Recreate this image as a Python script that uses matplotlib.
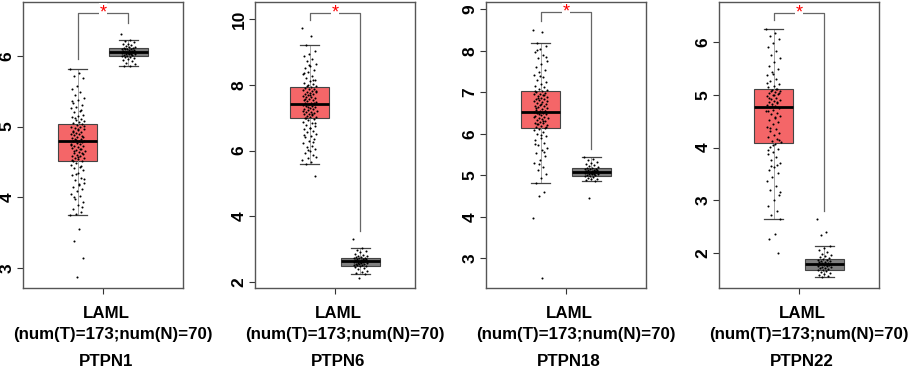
import matplotlib.pyplot as plt
import numpy as np

plt.rcParams['font.family'] = ['Liberation Sans', 'DejaVu Sans']

genes = ['PTPN1', 'PTPN6', 'PTPN18', 'PTPN22']
cohort = 'LAML'
counts = '(num(T)=173;num(N)=70)'

# box statistics: (whislo, q1, med, q3, whishi)
tumor_stats = [
    (3.75, 4.51, 4.79, 5.04, 5.82),
    (5.59, 6.98, 7.42, 7.95, 9.23),
    (4.82, 6.14, 6.53, 7.04, 8.20),
    (2.64, 4.09, 4.77, 5.12, 6.25),
]
normal_stats = [
    (5.85, 6.00, 6.06, 6.11, 6.23),
    (2.23, 2.49, 2.62, 2.73, 3.03),
    (4.87, 4.99, 5.09, 5.17, 5.44),
    (1.54, 1.68, 1.79, 1.89, 2.14),
]

tumor_pts = [
    [5.82, 5.75, 5.71, 5.68, 5.58, 5.53, 5.49, 5.44, 5.40, 5.37, 5.33, 5.31, 5.28, 5.26, 5.22, 5.20,
     5.17, 5.15, 5.13, 5.11, 5.09, 5.08, 5.06, 5.05, 5.03, 5.02, 5.00, 4.99, 4.98, 4.96, 4.95, 4.94,
     4.93, 4.91, 4.90, 4.89, 4.88, 4.86, 4.85, 4.84, 4.83, 4.82, 4.80, 4.79, 4.79, 4.78, 4.77, 4.76,
     4.75, 4.73, 4.72, 4.71, 4.70, 4.68, 4.67, 4.66, 4.64, 4.63, 4.62, 4.60, 4.59, 4.58, 4.56, 4.55,
     4.54, 4.52, 4.51, 4.49, 4.46, 4.43, 4.41, 4.38, 4.35, 4.31, 4.28, 4.24, 4.21, 4.18, 4.15, 4.12,
     4.09, 4.05, 4.02, 3.98, 3.93, 3.89, 3.84, 3.80, 3.77, 3.75, 3.56, 3.38, 3.15, 2.87,
     5.36, 5.24, 5.12, 5.01, 4.97, 4.92, 4.87, 4.81, 4.74, 4.69, 4.65, 4.61, 4.57, 4.53, 4.45, 4.33,
     4.26, 4.19, 4.00, 3.86],
    [9.73, 9.50, 9.23, 9.05, 8.95, 8.88, 8.80, 8.72, 8.65, 8.58, 8.52, 8.45, 8.40, 8.33, 8.27, 8.21,
     8.16, 8.11, 8.07, 8.03, 7.99, 7.96, 7.94, 7.92, 7.89, 7.87, 7.85, 7.82, 7.80, 7.78, 7.76, 7.73,
     7.71, 7.69, 7.66, 7.64, 7.62, 7.60, 7.58, 7.55, 7.53, 7.51, 7.49, 7.46, 7.44, 7.42, 7.41, 7.39,
     7.37, 7.35, 7.33, 7.30, 7.28, 7.26, 7.24, 7.21, 7.19, 7.17, 7.14, 7.12, 7.10, 7.08, 7.05, 7.03,
     7.01, 6.99, 6.96, 6.92, 6.88, 6.83, 6.79, 6.75, 6.70, 6.66, 6.61, 6.56, 6.51, 6.45, 6.40, 6.35,
     6.29, 6.22, 6.15, 6.10, 6.04, 5.98, 5.92, 5.85, 5.78, 5.71, 5.65, 5.59, 5.21,
     8.62, 8.36, 8.14, 7.97, 7.83, 7.68, 7.57, 7.45, 7.32, 7.22, 7.11, 7.00, 6.85, 6.68, 6.47, 6.25,
     6.02, 5.80],
    [8.50, 8.45, 8.20, 8.12, 8.05, 7.98, 7.90, 7.82, 7.75, 7.68, 7.61, 7.55, 7.49, 7.43, 7.37, 7.31,
     7.26, 7.21, 7.16, 7.12, 7.08, 7.05, 7.03, 7.01, 6.99, 6.97, 6.95, 6.93, 6.91, 6.89, 6.87, 6.85,
     6.83, 6.81, 6.79, 6.77, 6.75, 6.72, 6.70, 6.68, 6.66, 6.64, 6.62, 6.60, 6.58, 6.56, 6.54, 6.53,
     6.51, 6.49, 6.47, 6.45, 6.43, 6.41, 6.39, 6.37, 6.35, 6.33, 6.31, 6.29, 6.27, 6.25, 6.23, 6.21,
     6.19, 6.17, 6.15, 6.12, 6.08, 6.04, 5.99, 5.94, 5.89, 5.84, 5.78, 5.72, 5.66, 5.60, 5.53, 5.46,
     5.38, 5.30, 5.21, 5.12, 5.02, 4.93, 4.82, 4.59, 4.50, 3.96, 2.53,
     8.03, 7.86, 7.40, 7.03, 6.94, 6.86, 6.78, 6.71, 6.63, 6.55, 6.48, 6.40, 6.32, 6.24, 6.16, 5.96,
     5.75, 5.57, 5.26],
    [6.25, 6.18, 6.12, 6.05, 5.98, 5.90, 5.83, 5.76, 5.69, 5.62, 5.55, 5.49, 5.43, 5.37, 5.31, 5.26,
     5.21, 5.17, 5.14, 5.11, 5.09, 5.07, 5.05, 5.03, 5.01, 4.99, 4.97, 4.95, 4.93, 4.91, 4.89, 4.87,
     4.85, 4.83, 4.81, 4.79, 4.77, 4.75, 4.72, 4.69, 4.66, 4.63, 4.60, 4.56, 4.52, 4.48, 4.44, 4.40,
     4.36, 4.32, 4.28, 4.24, 4.20, 4.16, 4.12, 4.10, 4.06, 4.02, 3.97, 3.92, 3.87, 3.82, 3.76, 3.70,
     3.64, 3.58, 3.51, 3.44, 3.36, 3.28, 3.19, 3.10, 3.00, 2.90, 2.80, 2.72, 2.64, 2.36, 2.26, 2.00,
     5.40, 5.22, 5.12, 5.08, 5.04, 5.00, 4.94, 4.86, 4.78, 4.70, 4.58, 4.38, 4.14, 4.05, 3.95, 3.68,
     3.65, 3.15],
]
normal_pts = [
    [6.31, 6.23, 6.21, 6.19, 6.17, 6.16, 6.15, 6.14, 6.13, 6.12, 6.11, 6.11, 6.10, 6.10, 6.09, 6.09,
     6.08, 6.08, 6.07, 6.07, 6.06, 6.06, 6.06, 6.05, 6.05, 6.04, 6.04, 6.03, 6.03, 6.02, 6.02, 6.01,
     6.01, 6.00, 6.00, 5.99, 5.98, 5.97, 5.95, 5.94, 5.92, 5.90, 5.88, 5.86, 5.85],
    [3.29, 3.03, 2.98, 2.94, 2.90, 2.86, 2.83, 2.80, 2.78, 2.76, 2.74, 2.73, 2.72, 2.71, 2.70, 2.69,
     2.68, 2.67, 2.66, 2.65, 2.64, 2.63, 2.63, 2.62, 2.62, 2.61, 2.60, 2.59, 2.58, 2.57, 2.56, 2.55,
     2.54, 2.53, 2.52, 2.51, 2.50, 2.49, 2.47, 2.44, 2.41, 2.38, 2.34, 2.30, 2.26, 2.23, 2.12],
    [5.44, 5.40, 5.36, 5.32, 5.29, 5.26, 5.24, 5.22, 5.20, 5.18, 5.17, 5.16, 5.15, 5.14, 5.13, 5.12,
     5.12, 5.11, 5.10, 5.10, 5.09, 5.09, 5.08, 5.07, 5.07, 5.06, 5.05, 5.04, 5.03, 5.03, 5.02, 5.01,
     5.00, 4.99, 4.98, 4.96, 4.94, 4.92, 4.90, 4.88, 4.87, 4.46],
    [2.64, 2.40, 2.35, 2.14, 2.10, 2.06, 2.02, 1.99, 1.96, 1.94, 1.92, 1.90, 1.89, 1.88, 1.87, 1.86,
     1.85, 1.84, 1.83, 1.82, 1.81, 1.80, 1.79, 1.79, 1.78, 1.77, 1.76, 1.75, 1.74, 1.73, 1.72, 1.71,
     1.70, 1.69, 1.68, 1.66, 1.64, 1.62, 1.60, 1.58, 1.56, 1.54],
]

# significance bracket: (top, tumor leg end, normal leg end)
brackets = [(6.61, 5.95, 6.46), (10.2, 9.98, 3.55), (8.93, 8.72, 5.63), (6.55, 6.41, 2.80)]

ylims = [(2.72, 6.76), (1.81, 10.53), (2.28, 9.18), (1.34, 6.76)]
yticks = [[3, 4, 5, 6], [2, 4, 6, 8, 10], [3, 4, 5, 6, 7, 8, 9], [2, 3, 4, 5, 6]]

ax_left = [23, 255, 486, 719]
ax_width = 160
W, H = 913, 369

fig = plt.figure(figsize=(W / 100, H / 100), dpi=100)

frame_col = '#555555'


def jitter(n, width=0.14):
    # deterministic spread of points across the box
    return ((np.arange(n) * 0.618034) % 1.0 - 0.5) * 2 * width


for i in range(4):
    ax = fig.add_axes([ax_left[i] / W, 1 - 288 / H, ax_width / W, 286 / H])
    stats = []
    for s, lab in [(tumor_stats[i], 'T'), (normal_stats[i], 'N')]:
        stats.append(dict(whislo=s[0], q1=s[1], med=s[2], q3=s[3], whishi=s[4], fliers=[], label=lab))
    bp = ax.bxp(stats, positions=[1, 2], widths=0.78, patch_artist=True, showfliers=False,
                boxprops=dict(edgecolor='#444444', linewidth=0.8),
                medianprops=dict(color='black', linewidth=2),
                whiskerprops=dict(color='#999999', linewidth=0.6),
                capprops=dict(color='#444444', linewidth=0.9),
                capwidths=0.39)
    bp['boxes'][0].set_facecolor('#F46668')
    bp['boxes'][1].set_facecolor('#7F7F7F')

    t = np.array(tumor_pts[i])
    n = np.array(normal_pts[i])
    ax.scatter(1 + jitter(len(t)), t, s=2.2, color='black', zorder=3, linewidths=0)
    ax.scatter(2 + jitter(len(n)), n, s=2.2, color='black', zorder=3, linewidths=0)

    top, l1, l2 = brackets[i]
    ax.plot([1, 1, 2, 2], [l1, top, top, l2], color='#666666', linewidth=0.9, zorder=2)
    ax.text(1.5, top, '*', color='red', ha='center', va='center', fontsize=13,
            bbox=dict(facecolor='white', edgecolor='none', pad=0.5), zorder=4)

    ax.set_xlim(-0.07, 3.07)
    ax.set_ylim(*ylims[i])
    ax.set_xticks([1.5])
    ax.set_xticklabels([''])
    ax.set_yticks(yticks[i])
    ax.set_yticklabels([str(v) for v in yticks[i]], rotation=90, va='center',
                       fontsize=12.5, fontweight='bold')
    ax.tick_params(colors='#333333', length=4, width=0.8, pad=2)
    ax.tick_params(axis='y', labelcolor='black')
    for sp in ax.spines.values():
        sp.set_color(frame_col)
        sp.set_linewidth(1.0)

    cx = ax_left[i] + ax_width / 2
    fig.text((cx + 3) / W, 1 - 313 / H, cohort, ha='center', va='center', fontsize=12.2, fontweight='bold')
    fig.text((cx + 10) / W, 1 - 334 / H, counts, ha='center', va='center', fontsize=12.2, fontweight='bold')
    fig.text((cx + 3) / W, 1 - 361 / H, genes[i], ha='center', va='center', fontsize=12.2, fontweight='bold')

fig.savefig('out.png', dpi=100)
